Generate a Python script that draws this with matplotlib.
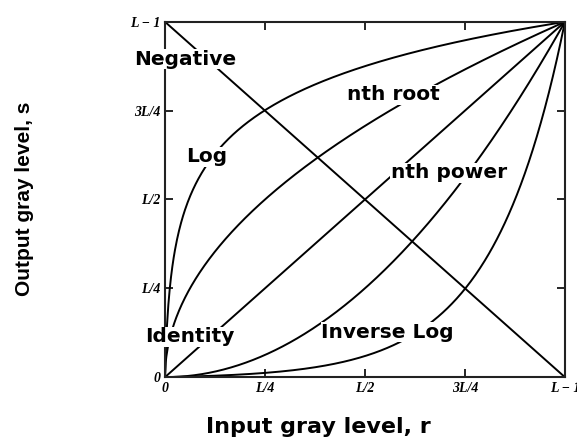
import numpy as np
import matplotlib.pyplot as plt

# gray levels normalised so that L-1 == 1
tick_pos = [0, 0.25, 0.5, 0.75, 1.0]
tick_labels = ["0", "L/4", "L/2", "3L/4", "L \u2212 1"]
log_k = 250      # log / inverse-log constant
root_exp = 0.5   # nth root
power_exp = 2.0  # nth power

r = np.linspace(0, 1, 600)
curves = {
    "Negative": 1 - r,
    "Identity": r,
    "Log": np.log1p(log_k * r) / np.log1p(log_k),
    "Inverse Log": ((1 + log_k) ** r - 1) / log_k,
    "nth root": r ** root_exp,
    "nth power": r ** power_exp,
}

# label anchor points in data coords
label_pos = {
    "Negative": (0.05, 0.895),
    "Log": (0.105, 0.62),
    "nth root": (0.57, 0.795),
    "nth power": (0.71, 0.575),
    "Identity": (0.063, 0.113),
    "Inverse Log": (0.557, 0.127),
}

fig = plt.figure(figsize=(5.77, 4.37), dpi=100)
ax = fig.add_axes([0.286, 0.137, 0.693, 0.813])

for name, s in curves.items():
    ax.plot(r, s, color="black", lw=1.4)

for name, (x, y) in label_pos.items():
    ax.text(x, y, name, ha="center", va="center", fontsize=14.5,
            fontweight="bold", family="DejaVu Sans",
            bbox=dict(facecolor="white", edgecolor="none", pad=0.3))

ax.set_xlim(0, 1)
ax.set_ylim(0, 1)
ax.set_xticks(tick_pos)
ax.set_yticks(tick_pos)
ax.set_xticklabels(tick_labels)
ax.set_yticklabels(tick_labels)
for lab in ax.get_xticklabels() + ax.get_yticklabels():
    lab.set_family("Liberation Serif")
    lab.set_fontweight("bold")
    lab.set_fontstyle("italic")
    lab.set_fontsize(10)
ax.tick_params(direction="in", length=6, width=1.2, top=True, right=True, pad=3.5)
for sp in ax.spines.values():
    sp.set_linewidth(1.5)
    sp.set_color("#222222")

fig.text(0.551, 0.009, "Input gray level, r", ha="center", va="baseline",
         fontsize=16, fontweight="bold", family="DejaVu Sans")
fig.text(0.043, 0.545, "Output gray level, s", ha="center", va="center",
         rotation=90, fontsize=15, fontweight="bold", family="Liberation Sans")

fig.savefig("out.png", dpi=100)
